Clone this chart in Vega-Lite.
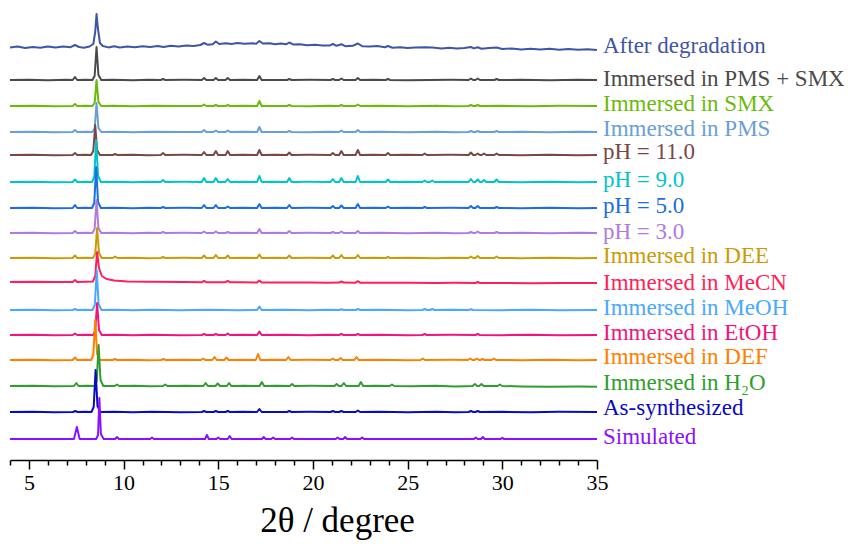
{
"$schema":"https://vega.github.io/schema/vega-lite/v6.json",
"width":587,"height":460,
"autosize":{"type":"none"},
"padding":{"left":10,"top":0,"right":268,"bottom":89},
"background":"white",
"config":{"view":{"stroke":null},"font":"Liberation Serif","axis":{"labelFont":"Liberation Serif","titleFont":"Liberation Serif"}},
"datasets":{
"lines":[
{"s":"A","x":4.0,"y":412.5},{"s":"A","x":4.4,"y":413.5},{"s":"A","x":4.8,"y":412},{"s":"A","x":5.2,"y":413},{"s":"A","x":5.6,"y":412.2},{"s":"A","x":6.0,"y":413.4},{"s":"A","x":6.4,"y":412.4},{"s":"A","x":6.8,"y":413.6},{"s":"A","x":7.2,"y":412.8},{"s":"A","x":7.43,"y":415},{"s":"A","x":7.65,"y":413},{"s":"A","x":7.9,"y":412.3},{"s":"A","x":8.2,"y":413.5},{"s":"A","x":8.4,"y":416},{"s":"A","x":8.5,"y":428},{"s":"A","x":8.57,"y":446},{"s":"A","x":8.64,"y":432},{"s":"A","x":8.75,"y":417},{"s":"A","x":8.9,"y":414},{"s":"A","x":9.2,"y":412.6},{"s":"A","x":9.5,"y":413.8},{"s":"A","x":9.8,"y":412.5},{"s":"A","x":10.2,"y":413.6},{"s":"A","x":10.6,"y":412.7},{"s":"A","x":11.0,"y":413.8},{"s":"A","x":11.4,"y":412.9},{"s":"A","x":11.8,"y":413.9},{"s":"A","x":12.1,"y":413},{"s":"A","x":12.5,"y":414.2},{"s":"A","x":12.9,"y":413.4},{"s":"A","x":13.3,"y":414.5},{"s":"A","x":13.7,"y":414},{"s":"A","x":14.05,"y":415},{"s":"A","x":14.25,"y":417},{"s":"A","x":14.45,"y":415.2},{"s":"A","x":14.7,"y":415.8},{"s":"A","x":14.87,"y":418.5},{"s":"A","x":15.05,"y":416},{"s":"A","x":15.4,"y":416.8},{"s":"A","x":15.7,"y":416},{"s":"A","x":16.0,"y":417},{"s":"A","x":16.4,"y":416.2},{"s":"A","x":16.8,"y":416.8},{"s":"A","x":17.0,"y":416.2},{"s":"A","x":17.17,"y":419},{"s":"A","x":17.35,"y":416.5},{"s":"A","x":17.7,"y":416.8},{"s":"A","x":18.0,"y":415.8},{"s":"A","x":18.3,"y":416.5},{"s":"A","x":18.6,"y":415.8},{"s":"A","x":18.75,"y":417.5},{"s":"A","x":18.95,"y":415.6},{"s":"A","x":19.3,"y":415.8},{"s":"A","x":19.7,"y":414.8},{"s":"A","x":20.1,"y":415.2},{"s":"A","x":20.5,"y":414.4},{"s":"A","x":20.9,"y":414.6},{"s":"A","x":21.05,"y":416},{"s":"A","x":21.25,"y":414.2},{"s":"A","x":21.5,"y":415.8},{"s":"A","x":21.7,"y":413.8},{"s":"A","x":22.1,"y":414.2},{"s":"A","x":22.37,"y":416.5},{"s":"A","x":22.6,"y":413.8},{"s":"A","x":23.0,"y":413.4},{"s":"A","x":23.4,"y":413.9},{"s":"A","x":23.8,"y":412.8},{"s":"A","x":23.96,"y":414},{"s":"A","x":24.2,"y":412.3},{"s":"A","x":24.6,"y":412.8},{"s":"A","x":25.0,"y":412},{"s":"A","x":25.4,"y":412.5},{"s":"A","x":25.9,"y":412.8},{"s":"A","x":26.3,"y":412.6},{"s":"A","x":26.8,"y":411.6},{"s":"A","x":27.2,"y":412.3},{"s":"A","x":27.6,"y":411.4},{"s":"A","x":28.0,"y":411.9},{"s":"A","x":28.34,"y":413},{"s":"A","x":28.5,"y":411.6},{"s":"A","x":28.7,"y":412.8},{"s":"A","x":28.9,"y":411.3},{"s":"A","x":29.3,"y":411.9},{"s":"A","x":29.7,"y":412.5},{"s":"A","x":30.0,"y":411},{"s":"A","x":30.5,"y":411.6},{"s":"A","x":31.0,"y":410.6},{"s":"A","x":31.5,"y":411.3},{"s":"A","x":32.0,"y":410.5},{"s":"A","x":32.5,"y":411.2},{"s":"A","x":33.0,"y":410.2},{"s":"A","x":33.5,"y":411},{"s":"A","x":34.0,"y":410.2},{"s":"A","x":34.5,"y":410.8},{"s":"A","x":35.0,"y":410},

{"s":"B","x":4,"y":380},{"s":"B","x":5,"y":380.3},{"s":"B","x":6,"y":379.8},{"s":"B","x":7,"y":380.2},{"s":"B","x":7.31,"y":380},{"s":"B","x":7.43,"y":383},{"s":"B","x":7.55,"y":380},{"s":"B","x":8.0,"y":380.2},{"s":"B","x":8.35,"y":380},{"s":"B","x":8.47,"y":384},{"s":"B","x":8.57,"y":413},{"s":"B","x":8.67,"y":385},{"s":"B","x":8.82,"y":380},{"s":"B","x":9.4,"y":380.2},{"s":"B","x":10.5,"y":379.8},{"s":"B","x":11.3,"y":380.2},{"s":"B","x":11.96,"y":380},{"s":"B","x":12.08,"y":381},{"s":"B","x":12.2,"y":380},{"s":"B","x":13.2,"y":380.2},{"s":"B","x":14.13,"y":380},{"s":"B","x":14.25,"y":382},{"s":"B","x":14.37,"y":380},{"s":"B","x":14.75,"y":380},{"s":"B","x":14.87,"y":382},{"s":"B","x":14.99,"y":380},{"s":"B","x":15.38,"y":380},{"s":"B","x":15.5,"y":382},{"s":"B","x":15.62,"y":380},{"s":"B","x":16.3,"y":380.2},{"s":"B","x":17.05,"y":380},{"s":"B","x":17.17,"y":384},{"s":"B","x":17.29,"y":380},{"s":"B","x":18.63,"y":380},{"s":"B","x":18.75,"y":381},{"s":"B","x":18.87,"y":380},{"s":"B","x":19.8,"y":380.2},{"s":"B","x":20.93,"y":380},{"s":"B","x":21.05,"y":381},{"s":"B","x":21.17,"y":380},{"s":"B","x":21.38,"y":380},{"s":"B","x":21.5,"y":381.5},{"s":"B","x":21.62,"y":380},{"s":"B","x":22.25,"y":380},{"s":"B","x":22.37,"y":382},{"s":"B","x":22.49,"y":380},{"s":"B","x":23.2,"y":380.2},{"s":"B","x":23.84,"y":380},{"s":"B","x":23.96,"y":381},{"s":"B","x":24.08,"y":380},{"s":"B","x":25.0,"y":379.8},{"s":"B","x":27.3,"y":380.2},{"s":"B","x":28.22,"y":380},{"s":"B","x":28.34,"y":381.5},{"s":"B","x":28.46,"y":380},{"s":"B","x":28.58,"y":380},{"s":"B","x":28.7,"y":381.5},{"s":"B","x":28.82,"y":380},{"s":"B","x":29.58,"y":380},{"s":"B","x":29.7,"y":381},{"s":"B","x":29.82,"y":380},{"s":"B","x":31,"y":380.2},{"s":"B","x":32.5,"y":379.8},{"s":"B","x":34,"y":380.2},{"s":"B","x":35,"y":380},

{"s":"C","x":4,"y":354},{"s":"C","x":5.2,"y":354.3},{"s":"C","x":6.3,"y":353.8},{"s":"C","x":7.31,"y":354},{"s":"C","x":7.43,"y":356},{"s":"C","x":7.55,"y":354},{"s":"C","x":8.0,"y":354.2},{"s":"C","x":8.35,"y":354},{"s":"C","x":8.47,"y":357},{"s":"C","x":8.57,"y":380},{"s":"C","x":8.67,"y":358},{"s":"C","x":8.82,"y":354},{"s":"C","x":9.5,"y":354.2},{"s":"C","x":10.5,"y":353.8},{"s":"C","x":11.5,"y":354.2},{"s":"C","x":13.0,"y":353.9},{"s":"C","x":14.13,"y":354},{"s":"C","x":14.25,"y":355.5},{"s":"C","x":14.37,"y":354},{"s":"C","x":14.75,"y":354},{"s":"C","x":14.87,"y":355},{"s":"C","x":14.99,"y":354},{"s":"C","x":15.38,"y":354},{"s":"C","x":15.5,"y":355},{"s":"C","x":15.62,"y":354},{"s":"C","x":16.4,"y":354.2},{"s":"C","x":17.05,"y":354},{"s":"C","x":17.17,"y":359},{"s":"C","x":17.29,"y":354},{"s":"C","x":18.63,"y":354},{"s":"C","x":18.75,"y":355},{"s":"C","x":18.87,"y":354},{"s":"C","x":19.8,"y":353.8},{"s":"C","x":20.8,"y":354.2},{"s":"C","x":21.38,"y":354},{"s":"C","x":21.5,"y":355},{"s":"C","x":21.62,"y":354},{"s":"C","x":22.25,"y":354},{"s":"C","x":22.37,"y":355.5},{"s":"C","x":22.49,"y":354},{"s":"C","x":23.5,"y":354.2},{"s":"C","x":25.0,"y":353.8},{"s":"C","x":26.5,"y":354.2},{"s":"C","x":27.5,"y":353.8},{"s":"C","x":28.22,"y":354},{"s":"C","x":28.34,"y":355},{"s":"C","x":28.46,"y":354},{"s":"C","x":28.58,"y":354},{"s":"C","x":28.7,"y":355},{"s":"C","x":28.82,"y":354},{"s":"C","x":30,"y":354.2},{"s":"C","x":31.5,"y":353.8},{"s":"C","x":33,"y":354.2},{"s":"C","x":35,"y":354},

{"s":"D","x":4,"y":328},{"s":"D","x":5.2,"y":328.3},{"s":"D","x":6.3,"y":327.8},{"s":"D","x":7.31,"y":328},{"s":"D","x":7.43,"y":330},{"s":"D","x":7.55,"y":328},{"s":"D","x":8.0,"y":328.2},{"s":"D","x":8.35,"y":328},{"s":"D","x":8.47,"y":331.5},{"s":"D","x":8.57,"y":357},{"s":"D","x":8.67,"y":332},{"s":"D","x":8.82,"y":328},{"s":"D","x":9.5,"y":328.2},{"s":"D","x":10.5,"y":327.8},{"s":"D","x":11.5,"y":328.2},{"s":"D","x":13.0,"y":327.9},{"s":"D","x":14.13,"y":328},{"s":"D","x":14.25,"y":330},{"s":"D","x":14.37,"y":328},{"s":"D","x":14.75,"y":328},{"s":"D","x":14.87,"y":329.5},{"s":"D","x":14.99,"y":328},{"s":"D","x":15.38,"y":328},{"s":"D","x":15.5,"y":329.5},{"s":"D","x":15.62,"y":328},{"s":"D","x":16.4,"y":328.2},{"s":"D","x":17.05,"y":328},{"s":"D","x":17.17,"y":333},{"s":"D","x":17.29,"y":328},{"s":"D","x":18.63,"y":328},{"s":"D","x":18.75,"y":329},{"s":"D","x":18.87,"y":328},{"s":"D","x":19.8,"y":327.8},{"s":"D","x":20.8,"y":328.2},{"s":"D","x":21.38,"y":328},{"s":"D","x":21.5,"y":329.5},{"s":"D","x":21.62,"y":328},{"s":"D","x":22.25,"y":328},{"s":"D","x":22.37,"y":330},{"s":"D","x":22.49,"y":328},{"s":"D","x":23.5,"y":328.2},{"s":"D","x":25.0,"y":327.8},{"s":"D","x":26.5,"y":328.2},{"s":"D","x":27.5,"y":327.8},{"s":"D","x":28.22,"y":328},{"s":"D","x":28.34,"y":329},{"s":"D","x":28.46,"y":328},{"s":"D","x":28.58,"y":328},{"s":"D","x":28.7,"y":329},{"s":"D","x":28.82,"y":328},{"s":"D","x":29.58,"y":328},{"s":"D","x":29.7,"y":329},{"s":"D","x":29.82,"y":328},{"s":"D","x":31,"y":328.2},{"s":"D","x":32.5,"y":327.8},{"s":"D","x":34,"y":328.2},{"s":"D","x":35,"y":328},

{"s":"E","x":4,"y":305},{"s":"E","x":5.2,"y":305.3},{"s":"E","x":6.3,"y":304.8},{"s":"E","x":7.31,"y":305},{"s":"E","x":7.43,"y":307},{"s":"E","x":7.55,"y":305},{"s":"E","x":8.0,"y":305.2},{"s":"E","x":8.28,"y":305},{"s":"E","x":8.4,"y":309},{"s":"E","x":8.5,"y":335},{"s":"E","x":8.6,"y":310},{"s":"E","x":8.75,"y":305},{"s":"E","x":9.43,"y":305},{"s":"E","x":9.55,"y":306},{"s":"E","x":9.67,"y":305},{"s":"E","x":10.5,"y":305.2},{"s":"E","x":11.3,"y":304.8},{"s":"E","x":11.96,"y":305},{"s":"E","x":12.08,"y":307},{"s":"E","x":12.2,"y":305},{"s":"E","x":13.2,"y":305.2},{"s":"E","x":14.13,"y":305},{"s":"E","x":14.25,"y":308},{"s":"E","x":14.37,"y":305},{"s":"E","x":14.75,"y":305},{"s":"E","x":14.87,"y":309},{"s":"E","x":14.99,"y":305},{"s":"E","x":15.38,"y":305},{"s":"E","x":15.5,"y":309},{"s":"E","x":15.62,"y":305},{"s":"E","x":16.3,"y":305.3},{"s":"E","x":17.05,"y":305},{"s":"E","x":17.17,"y":310},{"s":"E","x":17.29,"y":305},{"s":"E","x":18.0,"y":305.3},{"s":"E","x":18.63,"y":305},{"s":"E","x":18.75,"y":307.5},{"s":"E","x":18.87,"y":305},{"s":"E","x":19.8,"y":305.2},{"s":"E","x":20.93,"y":305},{"s":"E","x":21.05,"y":307},{"s":"E","x":21.17,"y":305},{"s":"E","x":21.38,"y":305},{"s":"E","x":21.5,"y":309},{"s":"E","x":21.62,"y":305},{"s":"E","x":22.25,"y":305},{"s":"E","x":22.37,"y":310},{"s":"E","x":22.49,"y":305},{"s":"E","x":23.2,"y":305.3},{"s":"E","x":23.84,"y":305},{"s":"E","x":23.96,"y":307},{"s":"E","x":24.08,"y":305},{"s":"E","x":25.0,"y":305.2},{"s":"E","x":25.78,"y":305},{"s":"E","x":25.9,"y":306.5},{"s":"E","x":26.02,"y":305},{"s":"E","x":27.3,"y":305.2},{"s":"E","x":28.22,"y":305},{"s":"E","x":28.34,"y":307.5},{"s":"E","x":28.46,"y":305},{"s":"E","x":28.58,"y":305},{"s":"E","x":28.7,"y":306.5},{"s":"E","x":28.82,"y":305},{"s":"E","x":28.91,"y":305},{"s":"E","x":29.03,"y":306.5},{"s":"E","x":29.15,"y":305},{"s":"E","x":29.58,"y":305},{"s":"E","x":29.7,"y":306.5},{"s":"E","x":29.82,"y":305},{"s":"E","x":31,"y":304.8},{"s":"E","x":32.5,"y":305.2},{"s":"E","x":34,"y":304.8},{"s":"E","x":35,"y":305},

{"s":"F","x":4,"y":278},{"s":"F","x":5.2,"y":278.3},{"s":"F","x":6.3,"y":277.8},{"s":"F","x":7.31,"y":278},{"s":"F","x":7.43,"y":280.5},{"s":"F","x":7.55,"y":278},{"s":"F","x":8.0,"y":278.2},{"s":"F","x":8.33,"y":278},{"s":"F","x":8.45,"y":283},{"s":"F","x":8.55,"y":320},{"s":"F","x":8.65,"y":284},{"s":"F","x":8.8,"y":278},{"s":"F","x":9.5,"y":278.2},{"s":"F","x":10.5,"y":277.8},{"s":"F","x":11.3,"y":278.2},{"s":"F","x":11.96,"y":278},{"s":"F","x":12.08,"y":280},{"s":"F","x":12.2,"y":278},{"s":"F","x":13.2,"y":278.2},{"s":"F","x":14.13,"y":278},{"s":"F","x":14.25,"y":282},{"s":"F","x":14.37,"y":278},{"s":"F","x":14.75,"y":278},{"s":"F","x":14.87,"y":282},{"s":"F","x":14.99,"y":278},{"s":"F","x":15.38,"y":278},{"s":"F","x":15.5,"y":281},{"s":"F","x":15.62,"y":278},{"s":"F","x":16.3,"y":278.3},{"s":"F","x":17.05,"y":278},{"s":"F","x":17.17,"y":284},{"s":"F","x":17.29,"y":278},{"s":"F","x":18.0,"y":278.2},{"s":"F","x":18.63,"y":278},{"s":"F","x":18.75,"y":282},{"s":"F","x":18.87,"y":278},{"s":"F","x":19.8,"y":278.2},{"s":"F","x":20.93,"y":278},{"s":"F","x":21.05,"y":281},{"s":"F","x":21.17,"y":278},{"s":"F","x":21.38,"y":278},{"s":"F","x":21.5,"y":282},{"s":"F","x":21.62,"y":278},{"s":"F","x":22.25,"y":278},{"s":"F","x":22.37,"y":284},{"s":"F","x":22.49,"y":278},{"s":"F","x":23.2,"y":278.2},{"s":"F","x":23.84,"y":278},{"s":"F","x":23.96,"y":280.5},{"s":"F","x":24.08,"y":278},{"s":"F","x":25.0,"y":278.2},{"s":"F","x":25.78,"y":278},{"s":"F","x":25.9,"y":279.5},{"s":"F","x":26.02,"y":278},{"s":"F","x":26.18,"y":278},{"s":"F","x":26.3,"y":279.5},{"s":"F","x":26.42,"y":278},{"s":"F","x":27.3,"y":278.2},{"s":"F","x":28.22,"y":278},{"s":"F","x":28.34,"y":281},{"s":"F","x":28.46,"y":278},{"s":"F","x":28.58,"y":278},{"s":"F","x":28.7,"y":280.5},{"s":"F","x":28.82,"y":278},{"s":"F","x":28.91,"y":278},{"s":"F","x":29.03,"y":280},{"s":"F","x":29.15,"y":278},{"s":"F","x":29.58,"y":278},{"s":"F","x":29.7,"y":280.5},{"s":"F","x":29.82,"y":278},{"s":"F","x":31,"y":277.8},{"s":"F","x":32.5,"y":278.2},{"s":"F","x":34,"y":277.8},{"s":"F","x":35,"y":278},

{"s":"G","x":4,"y":252},{"s":"G","x":5.2,"y":252.3},{"s":"G","x":6.3,"y":251.8},{"s":"G","x":7.31,"y":252},{"s":"G","x":7.43,"y":255},{"s":"G","x":7.55,"y":252},{"s":"G","x":8.0,"y":252.2},{"s":"G","x":8.33,"y":252},{"s":"G","x":8.45,"y":257},{"s":"G","x":8.55,"y":293},{"s":"G","x":8.65,"y":258},{"s":"G","x":8.8,"y":252},{"s":"G","x":9.5,"y":252.2},{"s":"G","x":10.5,"y":251.8},{"s":"G","x":11.3,"y":252.2},{"s":"G","x":11.96,"y":252},{"s":"G","x":12.08,"y":253},{"s":"G","x":12.2,"y":252},{"s":"G","x":13.2,"y":252.2},{"s":"G","x":14.13,"y":252},{"s":"G","x":14.25,"y":255},{"s":"G","x":14.37,"y":252},{"s":"G","x":14.75,"y":252},{"s":"G","x":14.87,"y":255},{"s":"G","x":14.99,"y":252},{"s":"G","x":15.38,"y":252},{"s":"G","x":15.5,"y":253.5},{"s":"G","x":15.62,"y":252},{"s":"G","x":16.3,"y":252.3},{"s":"G","x":17.05,"y":252},{"s":"G","x":17.17,"y":256},{"s":"G","x":17.29,"y":252},{"s":"G","x":18.0,"y":252.2},{"s":"G","x":18.63,"y":252},{"s":"G","x":18.75,"y":255},{"s":"G","x":18.87,"y":252},{"s":"G","x":19.8,"y":252.2},{"s":"G","x":20.93,"y":252},{"s":"G","x":21.05,"y":254},{"s":"G","x":21.17,"y":252},{"s":"G","x":21.38,"y":252},{"s":"G","x":21.5,"y":254.5},{"s":"G","x":21.62,"y":252},{"s":"G","x":22.25,"y":252},{"s":"G","x":22.37,"y":256},{"s":"G","x":22.49,"y":252},{"s":"G","x":23.2,"y":252.2},{"s":"G","x":23.84,"y":252},{"s":"G","x":23.96,"y":253.5},{"s":"G","x":24.08,"y":252},{"s":"G","x":25.0,"y":252.2},{"s":"G","x":25.78,"y":252},{"s":"G","x":25.9,"y":253},{"s":"G","x":26.02,"y":252},{"s":"G","x":27.3,"y":252.2},{"s":"G","x":28.22,"y":252},{"s":"G","x":28.34,"y":254},{"s":"G","x":28.46,"y":252},{"s":"G","x":28.58,"y":252},{"s":"G","x":28.7,"y":254},{"s":"G","x":28.82,"y":252},{"s":"G","x":29.58,"y":252},{"s":"G","x":29.7,"y":253},{"s":"G","x":29.82,"y":252},{"s":"G","x":31,"y":251.8},{"s":"G","x":32.5,"y":252.2},{"s":"G","x":34,"y":251.8},{"s":"G","x":35,"y":252},

{"s":"H","x":4,"y":227},{"s":"H","x":5.2,"y":227.3},{"s":"H","x":6.3,"y":226.8},{"s":"H","x":7.31,"y":227},{"s":"H","x":7.43,"y":229},{"s":"H","x":7.55,"y":227},{"s":"H","x":8.0,"y":227.2},{"s":"H","x":8.35,"y":227},{"s":"H","x":8.47,"y":231},{"s":"H","x":8.57,"y":260},{"s":"H","x":8.67,"y":232},{"s":"H","x":8.82,"y":227},{"s":"H","x":9.5,"y":227.2},{"s":"H","x":10.5,"y":226.8},{"s":"H","x":11.3,"y":227.2},{"s":"H","x":11.96,"y":227},{"s":"H","x":12.08,"y":228},{"s":"H","x":12.2,"y":227},{"s":"H","x":13.2,"y":227.2},{"s":"H","x":14.13,"y":227},{"s":"H","x":14.25,"y":228.5},{"s":"H","x":14.37,"y":227},{"s":"H","x":14.75,"y":227},{"s":"H","x":14.87,"y":228.5},{"s":"H","x":14.99,"y":227},{"s":"H","x":15.38,"y":227},{"s":"H","x":15.5,"y":228},{"s":"H","x":15.62,"y":227},{"s":"H","x":16.3,"y":227.3},{"s":"H","x":17.05,"y":227},{"s":"H","x":17.17,"y":231},{"s":"H","x":17.29,"y":227},{"s":"H","x":18.0,"y":227.2},{"s":"H","x":18.63,"y":227},{"s":"H","x":18.75,"y":229},{"s":"H","x":18.87,"y":227},{"s":"H","x":19.8,"y":227.2},{"s":"H","x":20.93,"y":227},{"s":"H","x":21.05,"y":228},{"s":"H","x":21.17,"y":227},{"s":"H","x":21.38,"y":227},{"s":"H","x":21.5,"y":228.5},{"s":"H","x":21.62,"y":227},{"s":"H","x":22.25,"y":227},{"s":"H","x":22.37,"y":229},{"s":"H","x":22.49,"y":227},{"s":"H","x":23.5,"y":227.2},{"s":"H","x":25.0,"y":226.8},{"s":"H","x":26.5,"y":227.2},{"s":"H","x":27.5,"y":226.8},{"s":"H","x":28.22,"y":227},{"s":"H","x":28.34,"y":228},{"s":"H","x":28.46,"y":227},{"s":"H","x":28.58,"y":227},{"s":"H","x":28.7,"y":228.5},{"s":"H","x":28.82,"y":227},{"s":"H","x":29.58,"y":227},{"s":"H","x":29.7,"y":228},{"s":"H","x":29.82,"y":227},{"s":"H","x":31,"y":227.2},{"s":"H","x":32.5,"y":226.8},{"s":"H","x":34,"y":227.2},{"s":"H","x":35,"y":227},

{"s":"I","x":4,"y":202},{"s":"I","x":5.2,"y":202.3},{"s":"I","x":6.3,"y":201.8},{"s":"I","x":7.31,"y":202},{"s":"I","x":7.43,"y":204.5},{"s":"I","x":7.55,"y":202},{"s":"I","x":8.0,"y":202.2},{"s":"I","x":8.38,"y":202},{"s":"I","x":8.5,"y":206},{"s":"I","x":8.6,"y":232},{"s":"I","x":8.7,"y":207},{"s":"I","x":8.85,"y":202},{"s":"I","x":9.43,"y":202},{"s":"I","x":9.55,"y":203.5},{"s":"I","x":9.67,"y":202},{"s":"I","x":10.5,"y":202.2},{"s":"I","x":11.3,"y":201.8},{"s":"I","x":11.96,"y":202},{"s":"I","x":12.08,"y":203},{"s":"I","x":12.2,"y":202},{"s":"I","x":13.2,"y":202.2},{"s":"I","x":14.13,"y":202},{"s":"I","x":14.25,"y":204.5},{"s":"I","x":14.37,"y":202},{"s":"I","x":14.75,"y":202},{"s":"I","x":14.87,"y":205},{"s":"I","x":14.99,"y":202},{"s":"I","x":15.38,"y":202},{"s":"I","x":15.5,"y":204.5},{"s":"I","x":15.62,"y":202},{"s":"I","x":16.3,"y":202.3},{"s":"I","x":17.05,"y":202},{"s":"I","x":17.17,"y":205.5},{"s":"I","x":17.29,"y":202},{"s":"I","x":18.0,"y":202.2},{"s":"I","x":18.63,"y":202},{"s":"I","x":18.75,"y":204.5},{"s":"I","x":18.87,"y":202},{"s":"I","x":19.8,"y":202.2},{"s":"I","x":20.93,"y":202},{"s":"I","x":21.05,"y":204.5},{"s":"I","x":21.17,"y":202},{"s":"I","x":21.38,"y":202},{"s":"I","x":21.5,"y":205},{"s":"I","x":21.62,"y":202},{"s":"I","x":22.25,"y":202},{"s":"I","x":22.37,"y":205},{"s":"I","x":22.49,"y":202},{"s":"I","x":23.2,"y":202.2},{"s":"I","x":23.84,"y":202},{"s":"I","x":23.96,"y":203},{"s":"I","x":24.08,"y":202},{"s":"I","x":25.0,"y":202.2},{"s":"I","x":26.5,"y":201.8},{"s":"I","x":27.3,"y":202.2},{"s":"I","x":28.22,"y":202},{"s":"I","x":28.34,"y":203.5},{"s":"I","x":28.46,"y":202},{"s":"I","x":28.58,"y":202},{"s":"I","x":28.7,"y":204},{"s":"I","x":28.82,"y":202},{"s":"I","x":29.58,"y":202},{"s":"I","x":29.7,"y":203.5},{"s":"I","x":29.82,"y":202},{"s":"I","x":31,"y":201.8},{"s":"I","x":32.5,"y":202.2},{"s":"I","x":34,"y":201.8},{"s":"I","x":35,"y":202},

{"s":"J","x":4,"y":178},{"s":"J","x":5.2,"y":178.2},{"s":"J","x":6.3,"y":177.9},{"s":"J","x":7.31,"y":178},{"s":"J","x":7.43,"y":180},{"s":"J","x":7.55,"y":178},{"s":"J","x":8.0,"y":178.2},{"s":"J","x":8.38,"y":178.5},{"s":"J","x":8.5,"y":184},{"s":"J","x":8.6,"y":208},{"s":"J","x":8.7,"y":192},{"s":"J","x":8.85,"y":184},{"s":"J","x":9.1,"y":181},{"s":"J","x":9.5,"y":179.5},{"s":"J","x":10.2,"y":178.6},{"s":"J","x":11.3,"y":178.2},{"s":"J","x":13.2,"y":178},{"s":"J","x":14.13,"y":177.8},{"s":"J","x":14.25,"y":179},{"s":"J","x":14.37,"y":177.8},{"s":"J","x":15.38,"y":177.8},{"s":"J","x":15.5,"y":179},{"s":"J","x":15.62,"y":177.8},{"s":"J","x":16.3,"y":177.7},{"s":"J","x":17.05,"y":177.6},{"s":"J","x":17.17,"y":179.5},{"s":"J","x":17.29,"y":177.6},{"s":"J","x":18.5,"y":177.5},{"s":"J","x":19.8,"y":177.6},{"s":"J","x":20.8,"y":177.3},{"s":"J","x":21.38,"y":177.4},{"s":"J","x":21.5,"y":178.5},{"s":"J","x":21.62,"y":177.4},{"s":"J","x":22.25,"y":177.3},{"s":"J","x":22.37,"y":178.8},{"s":"J","x":22.49,"y":177.3},{"s":"J","x":23.5,"y":177.2},{"s":"J","x":25.0,"y":177.3},{"s":"J","x":26.5,"y":177},{"s":"J","x":27.5,"y":177.2},{"s":"J","x":28.58,"y":177},{"s":"J","x":28.7,"y":178},{"s":"J","x":28.82,"y":177},{"s":"J","x":30,"y":177.1},{"s":"J","x":31.5,"y":176.8},{"s":"J","x":33,"y":177.1},{"s":"J","x":35,"y":177},

{"s":"K","x":4,"y":150},{"s":"K","x":5.2,"y":150.2},{"s":"K","x":6.3,"y":149.8},{"s":"K","x":7.31,"y":150},{"s":"K","x":7.43,"y":151},{"s":"K","x":7.55,"y":150},{"s":"K","x":8.0,"y":150.2},{"s":"K","x":8.36,"y":150},{"s":"K","x":8.48,"y":155},{"s":"K","x":8.58,"y":190},{"s":"K","x":8.68,"y":156},{"s":"K","x":8.83,"y":150},{"s":"K","x":9.5,"y":150.2},{"s":"K","x":10.5,"y":149.8},{"s":"K","x":11.5,"y":150.2},{"s":"K","x":13.0,"y":149.8},{"s":"K","x":14.5,"y":150.2},{"s":"K","x":16.0,"y":149.8},{"s":"K","x":17.05,"y":150},{"s":"K","x":17.17,"y":153.5},{"s":"K","x":17.29,"y":150},{"s":"K","x":18.5,"y":150.2},{"s":"K","x":19.8,"y":149.8},{"s":"K","x":20.8,"y":150.2},{"s":"K","x":21.38,"y":150},{"s":"K","x":21.5,"y":150.8},{"s":"K","x":21.62,"y":150},{"s":"K","x":22.25,"y":150},{"s":"K","x":22.37,"y":151},{"s":"K","x":22.49,"y":150},{"s":"K","x":23.5,"y":150.2},{"s":"K","x":25.0,"y":149.8},{"s":"K","x":25.78,"y":150},{"s":"K","x":25.9,"y":151},{"s":"K","x":26.02,"y":150},{"s":"K","x":26.18,"y":150},{"s":"K","x":26.3,"y":151},{"s":"K","x":26.42,"y":150},{"s":"K","x":27.3,"y":150.2},{"s":"K","x":28.22,"y":150},{"s":"K","x":28.34,"y":150.8},{"s":"K","x":28.46,"y":150},{"s":"K","x":30,"y":149.8},{"s":"K","x":31.5,"y":150.2},{"s":"K","x":33,"y":149.8},{"s":"K","x":35,"y":150},

{"s":"L","x":4,"y":125},{"s":"L","x":5.2,"y":125.2},{"s":"L","x":6.3,"y":124.8},{"s":"L","x":7.31,"y":125},{"s":"L","x":7.43,"y":126.5},{"s":"L","x":7.55,"y":125},{"s":"L","x":8.0,"y":125.2},{"s":"L","x":8.38,"y":125},{"s":"L","x":8.5,"y":129},{"s":"L","x":8.6,"y":157},{"s":"L","x":8.7,"y":130},{"s":"L","x":8.85,"y":125},{"s":"L","x":9.5,"y":125.2},{"s":"L","x":10.5,"y":124.8},{"s":"L","x":11.5,"y":125.2},{"s":"L","x":13.0,"y":124.8},{"s":"L","x":14.13,"y":125},{"s":"L","x":14.25,"y":126},{"s":"L","x":14.37,"y":125},{"s":"L","x":14.75,"y":125},{"s":"L","x":14.87,"y":126},{"s":"L","x":14.99,"y":125},{"s":"L","x":15.38,"y":125},{"s":"L","x":15.5,"y":126.5},{"s":"L","x":15.62,"y":125},{"s":"L","x":16.3,"y":125.2},{"s":"L","x":17.05,"y":125},{"s":"L","x":17.17,"y":128.5},{"s":"L","x":17.29,"y":125},{"s":"L","x":18.5,"y":125.2},{"s":"L","x":19.8,"y":124.8},{"s":"L","x":20.8,"y":125.2},{"s":"L","x":21.38,"y":125},{"s":"L","x":21.5,"y":126},{"s":"L","x":21.62,"y":125},{"s":"L","x":22.25,"y":125},{"s":"L","x":22.37,"y":126},{"s":"L","x":22.49,"y":125},{"s":"L","x":23.5,"y":125.2},{"s":"L","x":25.0,"y":124.8},{"s":"L","x":25.78,"y":125},{"s":"L","x":25.9,"y":126},{"s":"L","x":26.02,"y":125},{"s":"L","x":27.3,"y":125.2},{"s":"L","x":28.58,"y":125},{"s":"L","x":28.7,"y":126},{"s":"L","x":28.82,"y":125},{"s":"L","x":30,"y":124.8},{"s":"L","x":31.5,"y":125.2},{"s":"L","x":33,"y":124.8},{"s":"L","x":35,"y":125},

{"s":"M","x":4,"y":100},{"s":"M","x":5.2,"y":100.2},{"s":"M","x":6.3,"y":99.8},{"s":"M","x":7.31,"y":100},{"s":"M","x":7.43,"y":102.5},{"s":"M","x":7.55,"y":100},{"s":"M","x":8.0,"y":100.2},{"s":"M","x":8.28,"y":100},{"s":"M","x":8.4,"y":105},{"s":"M","x":8.5,"y":140},{"s":"M","x":8.6,"y":106},{"s":"M","x":8.75,"y":100},{"s":"M","x":9.42,"y":100},{"s":"M","x":9.54,"y":101},{"s":"M","x":9.66,"y":100},{"s":"M","x":10.5,"y":100.2},{"s":"M","x":11.3,"y":99.8},{"s":"M","x":11.98,"y":100},{"s":"M","x":12.1,"y":101},{"s":"M","x":12.22,"y":100},{"s":"M","x":13.2,"y":100.2},{"s":"M","x":14.08,"y":100},{"s":"M","x":14.2,"y":101.5},{"s":"M","x":14.32,"y":100},{"s":"M","x":14.68,"y":100},{"s":"M","x":14.8,"y":103},{"s":"M","x":14.92,"y":100},{"s":"M","x":15.31,"y":100},{"s":"M","x":15.43,"y":102.5},{"s":"M","x":15.55,"y":100},{"s":"M","x":16.3,"y":100.2},{"s":"M","x":16.98,"y":100},{"s":"M","x":17.1,"y":106},{"s":"M","x":17.22,"y":100},{"s":"M","x":18.0,"y":100.2},{"s":"M","x":18.58,"y":100},{"s":"M","x":18.7,"y":103},{"s":"M","x":18.82,"y":100},{"s":"M","x":19.8,"y":100.2},{"s":"M","x":20.92,"y":100},{"s":"M","x":21.04,"y":101.5},{"s":"M","x":21.16,"y":100},{"s":"M","x":21.34,"y":100},{"s":"M","x":21.46,"y":102},{"s":"M","x":21.58,"y":100},{"s":"M","x":22.18,"y":100},{"s":"M","x":22.3,"y":103},{"s":"M","x":22.42,"y":100},{"s":"M","x":23.5,"y":100.2},{"s":"M","x":25.0,"y":99.8},{"s":"M","x":25.68,"y":100},{"s":"M","x":25.8,"y":101.5},{"s":"M","x":25.92,"y":100},{"s":"M","x":27.3,"y":100.2},{"s":"M","x":28.18,"y":100},{"s":"M","x":28.3,"y":101.5},{"s":"M","x":28.42,"y":100},{"s":"M","x":28.53,"y":100},{"s":"M","x":28.65,"y":101.5},{"s":"M","x":28.77,"y":100},{"s":"M","x":28.85,"y":100},{"s":"M","x":28.95,"y":101},{"s":"M","x":29.07,"y":100},{"s":"M","x":29.43,"y":100},{"s":"M","x":29.55,"y":101.5},{"s":"M","x":29.67,"y":100},{"s":"M","x":31,"y":99.8},{"s":"M","x":32.5,"y":100.2},{"s":"M","x":34,"y":99.8},{"s":"M","x":35,"y":100},

{"s":"N","x":4,"y":74},{"s":"N","x":5.2,"y":74.2},{"s":"N","x":6.3,"y":73.8},{"s":"N","x":7.38,"y":74},{"s":"N","x":7.5,"y":77},{"s":"N","x":7.62,"y":74},{"s":"N","x":8.1,"y":74.2},{"s":"N","x":8.46,"y":74},{"s":"N","x":8.58,"y":79},{"s":"N","x":8.68,"y":115},{"s":"N","x":8.78,"y":80},{"s":"N","x":8.93,"y":74},{"s":"N","x":9.53,"y":74},{"s":"N","x":9.65,"y":75.5},{"s":"N","x":9.77,"y":74},{"s":"N","x":10.6,"y":74.2},{"s":"N","x":11.4,"y":73.8},{"s":"N","x":12.08,"y":74},{"s":"N","x":12.2,"y":75.5},{"s":"N","x":12.32,"y":74},{"s":"N","x":13.3,"y":74.2},{"s":"N","x":14.21,"y":74},{"s":"N","x":14.33,"y":77},{"s":"N","x":14.45,"y":74},{"s":"N","x":14.85,"y":74},{"s":"N","x":14.97,"y":76.5},{"s":"N","x":15.09,"y":74},{"s":"N","x":15.45,"y":74},{"s":"N","x":15.57,"y":77},{"s":"N","x":15.69,"y":74},{"s":"N","x":16.4,"y":74.2},{"s":"N","x":17.18,"y":74},{"s":"N","x":17.3,"y":78},{"s":"N","x":17.42,"y":74},{"s":"N","x":18.1,"y":74.2},{"s":"N","x":18.78,"y":74},{"s":"N","x":18.9,"y":76},{"s":"N","x":19.02,"y":74},{"s":"N","x":19.9,"y":74.2},{"s":"N","x":21.13,"y":74},{"s":"N","x":21.25,"y":76},{"s":"N","x":21.37,"y":74},{"s":"N","x":21.51,"y":74},{"s":"N","x":21.63,"y":77},{"s":"N","x":21.75,"y":74},{"s":"N","x":22.41,"y":74},{"s":"N","x":22.53,"y":78},{"s":"N","x":22.65,"y":74},{"s":"N","x":23.3,"y":74.2},{"s":"N","x":24.05,"y":74},{"s":"N","x":24.17,"y":75.5},{"s":"N","x":24.29,"y":74},{"s":"N","x":25.2,"y":73.8},{"s":"N","x":26.5,"y":74.2},{"s":"N","x":27.5,"y":73.6},{"s":"N","x":28.43,"y":74},{"s":"N","x":28.55,"y":76},{"s":"N","x":28.67,"y":74},{"s":"N","x":28.78,"y":74},{"s":"N","x":28.9,"y":76},{"s":"N","x":29.02,"y":74},{"s":"N","x":29.75,"y":74},{"s":"N","x":29.87,"y":75.5},{"s":"N","x":29.99,"y":74},{"s":"N","x":31,"y":73.6},{"s":"N","x":32.5,"y":73.2},{"s":"N","x":34,"y":73.4},{"s":"N","x":35,"y":73.2},

{"s":"O","x":4,"y":48},{"s":"O","x":5.2,"y":48.2},{"s":"O","x":6.3,"y":47.8},{"s":"O","x":7.33,"y":48},{"s":"O","x":7.45,"y":49},{"s":"O","x":7.57,"y":48},{"s":"O","x":8.0,"y":48.2},{"s":"O","x":8.3,"y":48},{"s":"O","x":8.42,"y":53},{"s":"O","x":8.52,"y":90},{"s":"O","x":8.62,"y":54},{"s":"O","x":8.77,"y":48},{"s":"O","x":9.5,"y":48.2},{"s":"O","x":10.5,"y":47.8},{"s":"O","x":11.5,"y":48.2},{"s":"O","x":13.0,"y":47.8},{"s":"O","x":14.13,"y":48},{"s":"O","x":14.25,"y":49},{"s":"O","x":14.37,"y":48},{"s":"O","x":14.75,"y":48},{"s":"O","x":14.87,"y":49},{"s":"O","x":14.99,"y":48},{"s":"O","x":15.38,"y":48},{"s":"O","x":15.5,"y":49},{"s":"O","x":15.62,"y":48},{"s":"O","x":16.3,"y":48.2},{"s":"O","x":17.05,"y":48},{"s":"O","x":17.17,"y":51},{"s":"O","x":17.29,"y":48},{"s":"O","x":18.63,"y":48},{"s":"O","x":18.75,"y":49},{"s":"O","x":18.87,"y":48},{"s":"O","x":19.8,"y":48.2},{"s":"O","x":20.93,"y":48},{"s":"O","x":21.05,"y":49},{"s":"O","x":21.17,"y":48},{"s":"O","x":21.38,"y":48},{"s":"O","x":21.5,"y":49},{"s":"O","x":21.62,"y":48},{"s":"O","x":22.25,"y":48},{"s":"O","x":22.37,"y":49.5},{"s":"O","x":22.49,"y":48},{"s":"O","x":23.5,"y":48.2},{"s":"O","x":25.0,"y":47.8},{"s":"O","x":26.5,"y":48.2},{"s":"O","x":27.5,"y":47.8},{"s":"O","x":28.22,"y":48},{"s":"O","x":28.34,"y":49},{"s":"O","x":28.46,"y":48},{"s":"O","x":28.58,"y":48},{"s":"O","x":28.7,"y":49},{"s":"O","x":28.82,"y":48},{"s":"O","x":30,"y":48.2},{"s":"O","x":31.5,"y":47.8},{"s":"O","x":33,"y":48.2},{"s":"O","x":35,"y":48},

{"s":"P","x":4,"y":21},{"s":"P","x":7.38,"y":21},{"s":"P","x":7.53,"y":33},{"s":"P","x":7.68,"y":21},{"s":"P","x":8.55,"y":21},{"s":"P","x":8.65,"y":25},{"s":"P","x":8.72,"y":62},{"s":"P","x":8.8,"y":26},{"s":"P","x":8.95,"y":21},{"s":"P","x":9.55,"y":21},{"s":"P","x":9.65,"y":23},{"s":"P","x":9.75,"y":21},{"s":"P","x":11.4,"y":21},{"s":"P","x":11.5,"y":22.5},{"s":"P","x":11.6,"y":21},{"s":"P","x":14.3,"y":21},{"s":"P","x":14.4,"y":25},{"s":"P","x":14.5,"y":21},{"s":"P","x":14.9,"y":21},{"s":"P","x":15.0,"y":22.5},{"s":"P","x":15.1,"y":21},{"s":"P","x":15.5,"y":21},{"s":"P","x":15.6,"y":24},{"s":"P","x":15.7,"y":21},{"s":"P","x":17.3,"y":21},{"s":"P","x":17.4,"y":23},{"s":"P","x":17.5,"y":21},{"s":"P","x":17.8,"y":21},{"s":"P","x":17.9,"y":22.5},{"s":"P","x":18.0,"y":21},{"s":"P","x":18.8,"y":21},{"s":"P","x":18.9,"y":22.5},{"s":"P","x":19.0,"y":21},{"s":"P","x":21.2,"y":21},{"s":"P","x":21.3,"y":22.5},{"s":"P","x":21.4,"y":21},{"s":"P","x":21.6,"y":21},{"s":"P","x":21.7,"y":23},{"s":"P","x":21.8,"y":21},{"s":"P","x":22.5,"y":21},{"s":"P","x":22.6,"y":22.5},{"s":"P","x":22.7,"y":21},{"s":"P","x":28.5,"y":21},{"s":"P","x":28.6,"y":22.5},{"s":"P","x":28.7,"y":21},{"s":"P","x":28.87,"y":21},{"s":"P","x":28.97,"y":23},{"s":"P","x":29.07,"y":21},{"s":"P","x":29.9,"y":21},{"s":"P","x":30.0,"y":22},{"s":"P","x":30.1,"y":21},{"s":"P","x":35,"y":21}
],
"labels":[
{"s":"A","t":"After degradation","x":35,"y":414},
{"s":"B","t":"Immersed in PMS + SMX","x":35,"y":381},
{"s":"C","t":"Immersed in SMX","x":35,"y":356},
{"s":"D","t":"Immersed in PMS","x":35,"y":331},
{"s":"E","t":"pH = 11.0","x":35,"y":308},
{"s":"F","t":"pH = 9.0","x":35,"y":280},
{"s":"G","t":"pH = 5.0","x":35,"y":254},
{"s":"H","t":"pH = 3.0","x":35,"y":228},
{"s":"I","t":"Immersed in DEE","x":35,"y":204},
{"s":"J","t":"Immersed in MeCN","x":35,"y":177},
{"s":"K","t":"Immersed in MeOH","x":35,"y":152},
{"s":"L","t":"Immersed in EtOH","x":35,"y":127},
{"s":"M","t":"Immersed in DEF","x":35,"y":103},
{"s":"N","t":"Immersed in H₂O","x":35,"y":77},
{"s":"O","t":"As-synthesized","x":35,"y":52},
{"s":"P","t":"Simulated","x":35,"y":23}
]
},
"encoding":{
"x":{"field":"x","type":"quantitative","scale":{"domain":[4,35],"nice":false,"zero":false},
"axis":{"values":[4,5,6,7,8,9,10,11,12,13,14,15,16,17,18,19,20,21,22,23,24,25,26,27,28,29,30,31,32,33,34,35],
"labelExpr":"datum.value % 5 === 0 ? datum.label : ''",
"labelOverlap":false,"labelFlush":false,
"tickSize":{"condition":{"test":"datum.value % 5 === 0","value":9},"value":5},
"tickWidth":1.5,"tickColor":"black","domainColor":"black","domainWidth":1.5,
"labelFont":"Liberation Serif","labelFontSize":22,"labelColor":"black","labelPadding":3,
"title":"2θ / degree","titleFont":"Liberation Serif","titleFontSize":35,"titleFontWeight":"normal","titleColor":"black","titlePadding":10,
"titleX":327,"titleAlign":"center",
"grid":false}},
"y":{"field":"y","type":"quantitative","scale":{"domain":[0,460],"nice":false,"zero":false},"axis":null},
"color":{"field":"s","type":"nominal","legend":null,
"scale":{"domain":["A","B","C","D","E","F","G","H","I","J","K","L","M","N","O","P"],
"range":["#3F55A5","#4A4A4A","#6BBA0A","#6A9ED8","#7A4747","#00C4C8","#1A6EE0","#B07ADF","#CC9A06","#FF1F5B","#4AA8FF","#F0147D","#FF8000","#2E9E2E","#0A0AC0","#8B10FF"]}}
},
"layer":[
{"data":{"name":"lines"},"mark":{"type":"line","strokeWidth":2,"strokeJoin":"round"}},
{"data":{"name":"labels"},"mark":{"type":"text","align":"left","baseline":"middle","dx":6,"font":"Liberation Serif","fontSize":23},
"encoding":{"text":{"field":"t"}}}
]
}
